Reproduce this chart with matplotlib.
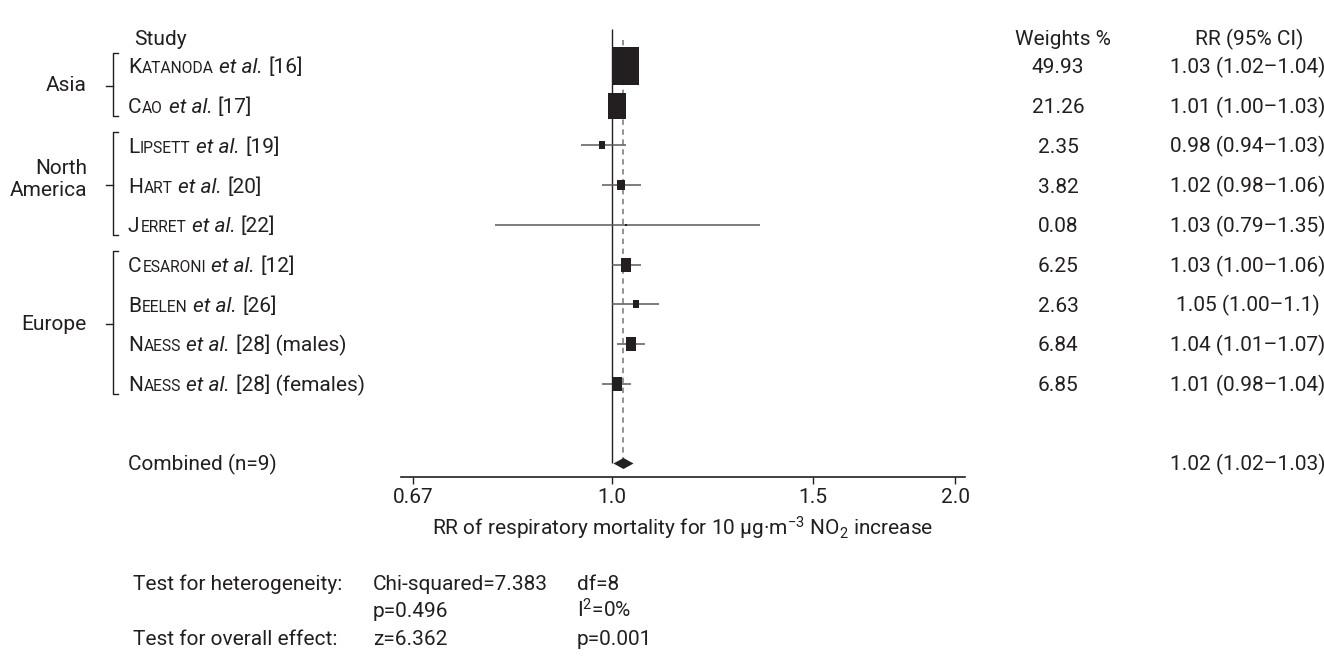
import numpy as np
import matplotlib
matplotlib.use('Agg')
import matplotlib.pyplot as plt
from matplotlib.path import Path
from matplotlib.ticker import NullLocator
from matplotlib.transforms import blended_transform_factory, offset_copy

plt.rcParams['font.family'] = 'Roboto'
plt.rcParams['mathtext.fontset'] = 'custom'
plt.rcParams['mathtext.rm'] = 'Roboto'
plt.rcParams['mathtext.it'] = 'Roboto:italic'
plt.rcParams['mathtext.default'] = 'regular'

# study data
authors = ['Katanoda', 'Cao', 'Lipsett', 'Hart', 'Jerret', 'Cesaroni', 'Beelen', 'Naess', 'Naess']
refs = ['[16]', '[17]', '[19]', '[20]', '[22]', '[12]', '[26]', '[28] (males)', '[28] (females)']
weights = [49.93, 21.26, 2.35, 3.82, 0.08, 6.25, 2.63, 6.84, 6.85]
rr = [1.03, 1.01, 0.98, 1.02, 1.03, 1.03, 1.05, 1.04, 1.01]
ci_lo = [1.02, 1.00, 0.94, 0.98, 0.79, 1.00, 1.00, 1.01, 0.98]
ci_hi = [1.04, 1.03, 1.03, 1.06, 1.35, 1.06, 1.10, 1.07, 1.04]
rr_labels = ['1.03 (1.02–1.04)', '1.01 (1.00–1.03)', '0.98 (0.94–1.03)', '1.02 (0.98–1.06)',
             '1.03 (0.79–1.35)', '1.03 (1.00–1.06)', '1.05 (1.00–1.1)', '1.04 (1.01–1.07)',
             '1.01 (0.98–1.04)']
regions = ['Asia', 'North\nAmerica', 'Europe']
region_first = [0, 2, 5]
region_last = [1, 4, 8]

pooled_rr = 1.023
pooled_label = '1.02 (1.02–1.03)'
pooled_name = 'Combined (n=9)'

xticks = [0.67, 1.0, 1.5, 2.0]
xtick_labels = ['0.67', '1.0', '1.5', '2.0']

stats_rows = [['Test for heterogeneity:', 'Chi-squared=7.383', 'df=8'],
              ['', 'p=0.496', 'I$^2$=0%'],
              ['Test for overall effect:', 'z=6.362', 'p=0.001']]

W, H = 1324, 660
fs = 15
ink = '#231f20'

fig = plt.figure(figsize=(W / 100, H / 100), dpi=100)
ax = fig.add_axes([401 / W, 1 - 477.3 / H, (965 - 401) / W, (477.3 - 6.45) / H])
ax.set_xscale('log')
ax.set_xlim(0.654, 2.039)
ax.set_ylim(10.36, -1.5)
for s in ['top', 'left', 'right']:
    ax.spines[s].set_visible(False)
ax.spines['bottom'].set_linewidth(1.2)
ax.spines['bottom'].set_color(ink)
ax.set_yticks([])
ax.set_xticks(xticks)
ax.set_xticklabels(xtick_labels)
ax.xaxis.set_minor_locator(NullLocator())
ax.tick_params(axis='x', length=5, width=1, pad=2.5, labelsize=fs, colors=ink)
ax.set_xlabel('RR of respiratory mortality for 10 μg·m$^{-3}$ NO$_2$ increase',
              fontsize=fs, color=ink, labelpad=6)

rows = np.arange(len(rr))
pooled_row = len(rr) + 1

# reference and pooled lines
ax.vlines(1.0, -0.92, pooled_row, color=ink, lw=1)
ax.vlines(pooled_rr, -0.66, pooled_row, color='#8a8a8a', lw=1.3, linestyles=(0, (3, 2.5)))

# CIs and weighted boxes
ax.hlines(rows, ci_lo, ci_hi, color='#5a5a5a', lw=1.1)
box = Path([(-0.69, -1), (0.69, -1), (0.69, 1), (-0.69, 1), (-0.69, -1)])
wmax = max(weights)
for i in range(len(rr)):
    size = 38.5 * 0.72 * np.sqrt(weights[i] / wmax)
    ax.plot(rr[i], rows[i], marker=box, markersize=size, color=ink, mew=0, ls='none')

diamond = Path([(-1, 0), (0, 0.55), (1, 0), (0, -0.55), (-1, 0)])
ax.plot(pooled_rr, pooled_row, marker=diamond, markersize=20 * 0.72, color=ink, mew=0, ls='none')

# text helpers
trans = blended_transform_factory(fig.transFigure, ax.transData)
cap = 0.711 * fs * 100 / 72 / 2


def put(x, y, s, ha='left', size=fs, style='normal', dx=0):
    return fig.text(x / W, y, s, transform=offset_copy(trans, fig=fig, x=dx, y=-cap, units='dots'),
                    ha=ha, va='baseline', fontsize=size, style=style, color=ink)


renderer = fig.canvas.get_renderer()
gap = 0.26 * fs * 100 / 72


def study_label(x, y, name, ref):
    # small caps surname, italic "et al.", then the reference
    pieces = [(name[0].upper(), fs, 'normal', 0),
              (name[1:].upper(), fs * 0.75, 'normal', 0.8),
              ('et al.', fs, 'italic', gap),
              (ref, fs, 'normal', gap)]
    dx = 0
    for s, size, style, g in pieces:
        dx += g
        t = put(x, y, s, size=size, style=style, dx=dx)
        dx += t.get_window_extent(renderer).width


head_row = -0.72
put(134, head_row, 'Study')
put(1063, head_row, 'Weights %', ha='center')
put(1249, head_row, 'RR (95% CI)', ha='center')

for i in range(len(rr)):
    study_label(128, rows[i], authors[i], refs[i])
    put(1058, rows[i], f'{weights[i]:.2f}', ha='center')
    put(1248, rows[i], rr_labels[i], ha='center')

put(128, pooled_row, pooled_name)
put(1248, pooled_row, pooled_label, ha='center')

# region brackets
for name, a, b in zip(regions, region_first, region_last):
    mid = (a + b) / 2
    ax.plot([118 / W, 113 / W, 113 / W, 118 / W], [a - 0.33, a - 0.33, b + 0.25, b + 0.25],
            transform=trans, color=ink, lw=1, clip_on=False)
    ax.plot([106 / W, 113 / W], [mid, mid], transform=trans, color=ink, lw=1, clip_on=False)
    fig.text(87 / W, mid - (0.15 if '\n' in name else 0), name, transform=trans, ha='right',
             va='center', multialignment='right', fontsize=fs, color=ink, linespacing=1.2)

# heterogeneity / overall effect block
for j, line in enumerate(stats_rows):
    y = pooled_row + 3.0 + 0.7 * j
    for x, s in zip([133, 373, 577], line):
        if s:
            put(x, y, s)

fig.savefig('out.png', dpi=100)
